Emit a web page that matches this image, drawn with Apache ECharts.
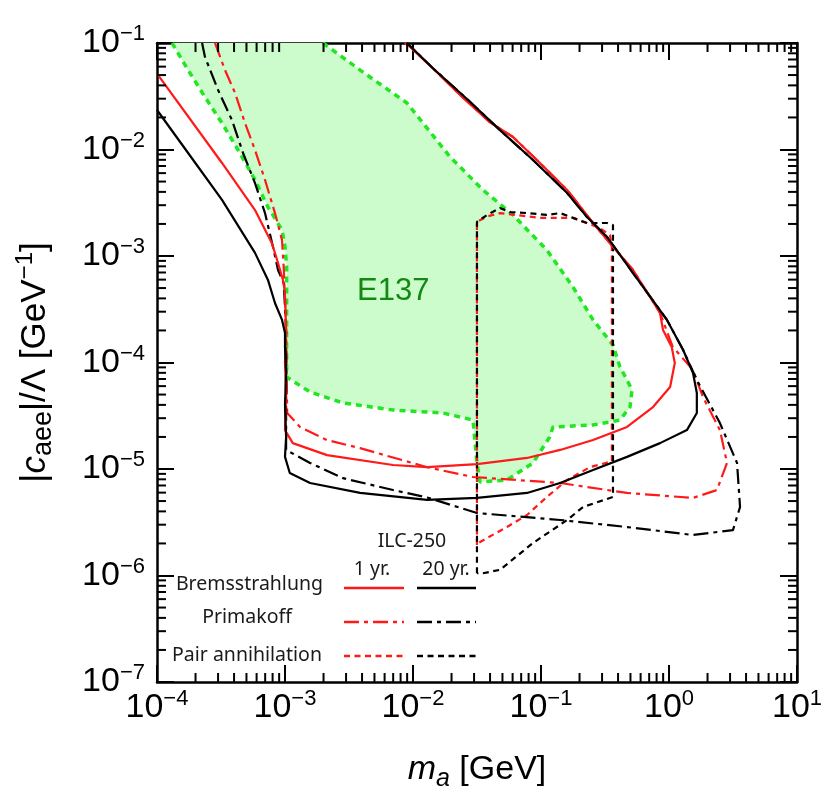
<!DOCTYPE html>
<html><head><meta charset="utf-8">
<script src="https://cdn.jsdelivr.net/npm/echarts@6/dist/echarts.min.js"></script>
<style>html,body{margin:0;padding:0;background:#fff}#c{width:829px;height:800px}</style>
</head><body><div id="c"></div>
<script>
// ---- axis ranges / tick labels ----
const xRange = [1e-4, 10];
const yRange = [1e-7, 1e-1];
const minorMultipliers = [2, 3, 4, 5, 6, 7, 8, 9];
const xDecades = [1e-4, 1e-3, 1e-2, 1e-1, 1];
const yDecades = [1e-7, 1e-6, 1e-5, 1e-4, 1e-3, 1e-2];

// ---- series: [m_a (GeV), |c_aee|/Lambda (GeV^-1)] ----
const bremsOneYr = [
 [1.02e-4,5.0e-2],[3.22e-4,7.47e-3],[5.83e-4,2.7e-3],[7.9e-4,1.32e-3],[8.82e-4,8.59e-4],[9.64e-4,5.96e-4],
 [1.0e-3,4.5e-4],[1.02e-3,2.0e-4],[1.0e-3,1.0e-4],[1.02e-3,5.0e-5],[1.0e-3,2.32e-5],[1.15e-3,1.75e-5],
 [2.13e-3,1.35e-5],[6.98e-3,1.09e-5],[1.29e-2,1.04e-5],[3.16e-2,1.11e-5],[7.78e-2,1.27e-5],[0.141,1.51e-5],
 [0.255,1.87e-5],[0.47,2.48e-5],[0.75,3.82e-5],[1.02,5.89e-5],[1.11,9.9e-5],[1.05,1.4e-4],[0.898,2.02e-4],
 [0.851,2.92e-4],[0.711,4.12e-4],[0.524,7.39e-4],[0.365,1.22e-3],[0.255,2.04e-3],[0.16,4.17e-3],
 [9.82e-2,7.47e-3],[6.04e-2,1.31e-2],[4.0e-2,1.8e-2],[2.33e-2,3.25e-2],[1.43e-2,5.8e-2],[9.48e-3,9.17e-2],
 [8.66e-3,0.1]
];
const bremsTwentyYr = [
 [1.0e-4,2.35e-2],[1.75e-4,9.27e-3],[3.22e-4,3.36e-3],[5.83e-4,1.07e-3],[7.36e-4,5.96e-4],[8.35e-4,3.62e-4],
 [9.48e-4,2.51e-4],[1.0e-3,1.89e-4],[1.0e-3,1.4e-4],[1.02e-3,8.0e-5],[1.0e-3,4.0e-5],[1.02e-3,2.0e-5],
 [1.0e-3,1.3e-5],[1.09e-3,9.17e-6],[1.57e-3,7.39e-6],[3.86e-3,5.96e-6],[1.29e-2,5.12e-6],[3.16e-2,5.35e-6],
 [7.78e-2,5.96e-6],[0.141,7.39e-6],[0.255,9.79e-6],[0.47,1.3e-5],[0.851,1.75e-5],[1.38,2.32e-5],
 [1.65,3.36e-5],[1.65,5.18e-5],[1.54,7.97e-5],[1.29,1.31e-4],[0.964,2.51e-4],[0.524,6.92e-4],
 [0.328,1.51e-3],[0.229,2.32e-3],[0.16,3.91e-3],[8.66e-2,7.97e-3],[4.78e-2,1.52e-2],[2.64e-2,2.98e-2],
 [1.43e-2,5.8e-2],[8.98e-3,0.1]
];
const primakoffOneYr = [
 [2.84e-4,0.1],[3.4e-4,5.57e-2],[4.07e-4,3.4e-2],[4.87e-4,1.77e-2],[5.83e-4,9.89e-3],[6.98e-4,5.18e-3],
 [8.35e-4,2.53e-3],[9.48e-4,1.41e-3],[9.8e-4,7.39e-4],[1.02e-3,2.0e-4],[1.04e-3,3.36e-5],[1.31e-3,2.48e-5],
 [2.13e-3,1.87e-5],[3.86e-3,1.57e-5],[1.29e-2,1.04e-5],[2.94e-2,8.41e-6],[0.141,7.39e-6],[0.47,5.96e-6],
 [1.54,5.35e-6],[2.37,6.35e-6],[2.84,1.14e-5],[2.5,2.32e-5],[1.84,4.75e-5],[1.54,8.5e-5],[1.07,1.4e-4],
 [0.851,2.92e-4],[0.711,4.12e-4],[0.524,7.39e-4],[0.365,1.22e-3],[0.255,2.04e-3],[0.16,4.17e-3],
 [9.82e-2,7.47e-3],[6.04e-2,1.31e-2],[4.0e-2,1.8e-2],[2.33e-2,3.25e-2],[1.43e-2,5.8e-2],[9.48e-3,9.17e-2],
 [8.66e-3,0.1]
];
const primakoffTwentyYr = [
 [2.25e-4,0.1],[2.37e-4,7.4e-2],[3.0e-4,3.62e-2],[3.85e-4,1.89e-2],[4.7e-4,9.27e-3],[5.83e-4,4.84e-3],
 [6.98e-4,2.53e-3],[8.05e-4,1.22e-3],[8.82e-4,7.39e-4],[9.8e-4,5.5e-4],[1.02e-3,2.0e-4],[1.02e-3,1.51e-5],
 [1.57e-3,1.14e-5],[2.84e-3,8.2e-6],[6.98e-3,6.35e-6],[1.29e-2,5.4e-6],[3.16e-2,3.86e-6],[0.141,3.32e-6],
 [0.47,2.85e-6],[1.54,2.4e-6],[3.16,2.67e-6],[3.59,4.4e-6],[3.4,1.14e-5],[2.5,2.7e-5],[1.65,6.85e-5],
 [1.29,1.31e-4],[0.964,2.51e-4],[0.524,6.92e-4],[0.328,1.51e-3],[0.229,2.32e-3],[0.16,3.91e-3],
 [8.66e-2,7.97e-3],[4.78e-2,1.52e-2],[2.64e-2,2.98e-2],[1.43e-2,5.8e-2],[8.98e-3,0.1]
];
const pairOneYr = [
 [3.16e-2,1.93e-6],[3.16e-2,2.09e-3],[3.79e-2,2.35e-3],[4.78e-2,2.53e-3],[9.82e-2,2.28e-3],[0.178,2.28e-3],
 [0.289,1.83e-3],[0.346,1.57e-3],[0.358,1.2e-3],[0.358,1.18e-5],[0.241,1.04e-5],[0.16,7.88e-6],
 [0.111,5.46e-6],[7.78e-2,3.7e-6],[5.42e-2,2.85e-6],[3.79e-2,2.25e-6],[3.2e-2,2.0e-6]
];
const pairTwentyYr = [
 [3.16e-2,1.05e-6],[3.16e-2,2.09e-3],[3.79e-2,2.43e-3],[4.78e-2,2.82e-3],[5.73e-2,2.59e-3],[7.78e-2,2.53e-3],
 [0.111,2.43e-3],[0.141,2.53e-3],[0.178,2.28e-3],[0.229,2.04e-3],[0.328,2.04e-3],[0.365,1.95e-3],
 [0.365,5.46e-6],[0.213,4.4e-6],[0.16,3.32e-6],[8.66e-2,2.02e-6],[4.78e-2,1.13e-6],[3.52e-2,1.05e-6],
 [3.16e-2,1.05e-6]
];
const e137Boundary = [
 [1.31e-4,0.1],[1.75e-4,5.57e-2],[2.37e-4,3.11e-2],[3.22e-4,1.77e-2],[4.3e-4,9.89e-3],[5.83e-4,5.18e-3],
 [7.36e-4,2.88e-3],[9.48e-4,1.75e-3],[1.0e-3,1.22e-3],[1.03e-3,8.0e-4],[1.03e-3,7.31e-5],[1.57e-3,5.28e-5],
 [2.84e-3,4.17e-5],[6.98e-3,3.58e-5],[1.71e-2,3.36e-5],[2.94e-2,2.88e-5],[3.16e-2,1.14e-5],[3.34e-2,7.55e-6],
 [5.42e-2,7.88e-6],[8.66e-2,1.14e-5],[0.117,2.0e-5],[0.124,2.48e-5],[0.255,2.59e-5],[0.414,2.88e-5],
 [0.496,3.82e-5],[0.514,5.52e-5],[0.47,6.85e-5],[0.414,9.07e-5],[0.365,1.46e-4],[0.255,2.51e-4],
 [0.178,5.11e-4],[0.111,1.14e-3],[6.04e-2,2.43e-3],[3.52e-2,4.17e-3],[1.95e-2,8.5e-3],[8.98e-3,2.73e-2],
 [3.86e-3,5.57e-2],[1.98e-3,0.1]
];
const e137LabelAt = [7.0e-3, 4.6e-4];

// ---- styles ----
const RED = '#ff1a1a', BLACK = '#000000', GREEN = '#22e622', FILL = '#ccfccc';
const DASHDOT = [15, 5, 4, 5], DASH = [6, 4.5];
const TICKFONT = 'Liberation Sans';
const LEGFONT = '"Noto Sans", sans-serif';

function expLabel(v) {
  const e = Math.round(Math.log10(v));
  return '{b|10}{s|' + (e < 0 ? '\u2212' + (-e) : e) + '}';
}
const tickRich = {
  b: {fontFamily: TICKFONT, fontSize: 34, lineHeight: 40, color: '#000'},
  s: {fontFamily: TICKFONT, fontSize: 22, lineHeight: 22, verticalAlign: 'top', color: '#000'}
};
function axisCommon(show) {
  return {
    axisLine: {show: true, lineStyle: {color: '#000', width: 2.5}},
    axisTick: {show: true, inside: true, length: 17, lineStyle: {color: '#000', width: 2}},
    splitLine: {show: false},
    axisLabel: show ? {show: true, formatter: expLabel, rich: tickRich} : {show: false}
  };
}

const minorX = [], minorY = [];
xDecades.forEach(d => minorMultipliers.forEach(m => minorX.push(d * m)));
yDecades.forEach(d => minorMultipliers.forEach(m => minorY.push(d * m)));

function minorTicks(vals, dir) {
  return {
    type: 'custom', xAxisIndex: 0, yAxisIndex: 0, silent: true, z: 6, clip: false,
    data: vals.map(v => dir === 'x' ? [v, yRange[0]] : [xRange[0], v]),
    renderItem(params, api) {
      const cs = params.coordSys;
      const p = api.coord([api.value(0), api.value(1)]);
      const st = {stroke: '#000', lineWidth: 2};
      const L = 9;
      if (dir === 'x') {
        return {type: 'group', children: [
          {type: 'line', shape: {x1: p[0], y1: cs.y + cs.height, x2: p[0], y2: cs.y + cs.height - L}, style: st},
          {type: 'line', shape: {x1: p[0], y1: cs.y, x2: p[0], y2: cs.y + L}, style: st}
        ]};
      }
      return {type: 'group', children: [
        {type: 'line', shape: {x1: cs.x, y1: p[1], x2: cs.x + L, y2: p[1]}, style: st},
        {type: 'line', shape: {x1: cs.x + cs.width, y1: p[1], x2: cs.x + cs.width - L, y2: p[1]}, style: st}
      ]};
    }
  };
}

function curve(name, data, color, dash, width) {
  return {
    name, type: 'line', data, showSymbol: false, symbol: 'none', silent: true, z: 4,
    lineStyle: {color, width: width || 2.2, type: dash || 'solid'},
    animation: false
  };
}

const chart = echarts.init(document.getElementById('c'), null, {renderer: 'canvas'});

const legendText = (text, x, y, align) => ({
  type: 'text', z: 10, style: {text, x, y, fill: '#1a1a1a', font: '19.5px ' + LEGFONT, textAlign: align || 'center', textVerticalAlign: 'middle'}
});
const legendLine = (x1, x2, y, color, dash) => ({
  type: 'line', z: 10, shape: {x1, y1: y, x2, y2: y},
  style: {stroke: color, lineWidth: 2.6, lineDash: dash || null}
});

chart.setOption({
  animation: false,
  backgroundColor: '#fff',
  grid: {left: 157, right: 32, top: 43, bottom: 118, containLabel: false},
  xAxis: [
    Object.assign({type: 'log', logBase: 10, min: xRange[0], max: xRange[1], position: 'bottom',
      name: '{i|m}{isub|a} [GeV]', nameLocation: 'middle', nameGap: 66,
      nameTextStyle: {fontFamily: TICKFONT, fontSize: 34, lineHeight: 44, color: '#000',
        rich: {i: {fontFamily: TICKFONT, fontStyle: 'italic', fontSize: 34, lineHeight: 44},
               isub: {fontFamily: TICKFONT, fontStyle: 'italic', fontSize: 25, lineHeight: 25, verticalAlign: 'bottom'}}}
    }, axisCommon(true), {axisLabel: {show: true, formatter: expLabel, rich: tickRich, margin: 6}}),
    Object.assign({type: 'log', logBase: 10, min: xRange[0], max: xRange[1], position: 'top'}, axisCommon(false))
  ],
  yAxis: [
    Object.assign({type: 'log', logBase: 10, min: yRange[0], max: yRange[1], position: 'left',
      name: '|{i|c}{sub|aee}|/\u039B [GeV{sup|\u22121}]', nameLocation: 'middle', nameGap: 100, nameRotate: 90,
      nameTextStyle: {fontFamily: TICKFONT, fontSize: 35, lineHeight: 44, color: '#000',
        rich: {i: {fontFamily: TICKFONT, fontStyle: 'italic', fontSize: 35, lineHeight: 44},
               sub: {fontFamily: TICKFONT, fontSize: 27, lineHeight: 27, verticalAlign: 'bottom'},
               sup: {fontFamily: TICKFONT, fontSize: 24, lineHeight: 24, verticalAlign: 'top'}}}
    }, axisCommon(true), {axisLabel: {show: true, formatter: expLabel, rich: tickRich, margin: 12}}),
    Object.assign({type: 'log', logBase: 10, min: yRange[0], max: yRange[1], position: 'right'}, axisCommon(false))
  ],
  series: [
    {
      type: 'custom', name: 'E137 fill', silent: true, z: 1, clip: true,
      data: e137Boundary,
      renderItem(params, api) {
        if (params.dataIndex !== 0) return null;
        const pts = e137Boundary.map(p => api.coord(p));
        return {type: 'polygon', shape: {points: pts}, style: {fill: FILL, stroke: null}};
      }
    },
    Object.assign(curve('E137', e137Boundary, GREEN, [6, 5], 3.5), {
      z: 2,
      markPoint: {
        silent: true, symbol: 'circle', symbolSize: 0,
        label: {show: true, position: 'inside', formatter: 'E137', color: '#128a12', fontFamily: TICKFONT, fontSize: 31},
        data: [{coord: e137LabelAt}]
      }
    }),
    curve('Pair annihilation 1 yr', pairOneYr, RED, DASH),
    curve('Pair annihilation 20 yr', pairTwentyYr, BLACK, DASH),
    curve('Primakoff 1 yr', primakoffOneYr, RED, DASHDOT),
    curve('Primakoff 20 yr', primakoffTwentyYr, BLACK, DASHDOT),
    curve('Bremsstrahlung 1 yr', bremsOneYr, RED, 'solid'),
    curve('Bremsstrahlung 20 yr', bremsTwentyYr, BLACK, 'solid'),
    minorTicks(minorX, 'x'),
    minorTicks(minorY, 'y')
  ],
  graphic: [
    legendText('ILC-250', 412, 541),
    legendText('1 yr.', 372, 569),
    legendText('20 yr.', 446, 569),
    legendText('Bremsstrahlung', 323, 584, 'right'),
    legendText('Primakoff', 247, 617),
    legendText('Pair annihilation', 247, 655),
    legendLine(344, 404, 588, RED),
    legendLine(417, 476, 588, BLACK),
    legendLine(344, 404, 622, RED, DASHDOT),
    legendLine(417, 476, 622, BLACK, DASHDOT),
    legendLine(344, 404, 656, RED, DASH),
    legendLine(417, 476, 656, BLACK, DASH)
  ]
});
</script>
</body></html>
